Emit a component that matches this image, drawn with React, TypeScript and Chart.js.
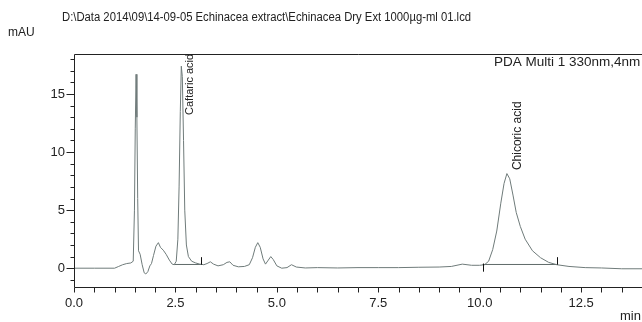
import React, { useEffect, useRef } from 'react';
import { Chart, registerables } from 'chart.js';

Chart.register(...registerables);

// ---- data ----
const TIME = [
  0.0, 0.5, 1.0, 1.1, 1.2, 1.3, 1.4, 1.46, 1.49, 1.51, 1.53, 1.55, 1.57, 1.59,
  1.63, 1.68, 1.73, 1.77, 1.82, 1.87, 1.91, 1.96, 2.02, 2.08, 2.13, 2.2, 2.27,
  2.35, 2.42, 2.47, 2.52, 2.56, 2.59, 2.62, 2.645, 2.67, 2.7, 2.73, 2.77, 2.82,
  2.9, 3.0, 3.1, 3.2, 3.28, 3.36, 3.44, 3.55, 3.68, 3.77, 3.84, 3.92, 4.05,
  4.2, 4.32, 4.4, 4.47, 4.53, 4.59, 4.66, 4.72, 4.79, 4.85, 4.91, 5.0, 5.12,
  5.25, 5.36, 5.48, 5.7, 6.0, 6.5, 7.0, 7.5, 8.0, 8.5, 9.0, 9.3, 9.57, 9.8,
  10.0, 10.12, 10.22, 10.32, 10.42, 10.52, 10.6, 10.67, 10.74, 10.82, 10.9,
  11.0, 11.12, 11.3, 11.5, 11.7, 11.9, 12.2, 12.6, 13.0, 13.5, 14.0,
];
const MAU = [
  0.0, 0.0, 0.0, 0.15, 0.3, 0.4, 0.45, 0.6, 5.0, 12.0, 16.7, 13.0, 6.0, 1.5,
  1.2, 0.3, -0.4, -0.5, -0.3, 0.2, 0.4, 1.1, 1.9, 2.2, 1.8, 1.55, 1.2,
  0.7, 0.35, 0.3, 0.6, 2.5, 7.0, 13.5, 17.4, 16.5, 11.0, 5.0, 2.0, 1.0,
  0.6, 0.45, 0.35, 0.3, 0.4, 0.55, 0.35, 0.2, 0.3, 0.5, 0.55, 0.25, 0.12,
  0.15, 0.3, 0.9, 1.8, 2.2, 1.8, 0.8, 0.35, 0.7, 1.0, 0.75, 0.2, 0.0,
  0.05, 0.3, 0.1, 0.02, 0.05, 0.02, 0.05, 0.05, 0.05, 0.08, 0.1, 0.15, 0.35, 0.25,
  0.25, 0.3, 0.6, 1.6, 3.2, 5.6, 7.3, 8.15, 7.7, 6.3, 4.8,
  3.6, 2.5, 1.5, 0.9, 0.5, 0.3, 0.15, 0.05, 0.02, -0.05, -0.05,
];

// integration baselines (start/end time and level)
const BASELINE_START = [2.47, 10.07];
const BASELINE_END = [3.13, 11.9];
const BASELINE_LEVEL = [0.32, 0.32];

// peak start/end markers
const MARKER_TIME = [3.13, 10.07, 11.9];
const MARKER_LOW = [0.3, -0.3, 0.3];
const MARKER_HIGH = [0.95, 0.4, 0.95];

// peak labels (anchor in data units, text runs upward)
const PEAK_NAMES = ['Caftaric acid', 'Chicoric acid'];
const PEAK_LABEL_TIME = [2.86, 10.94];
const PEAK_LABEL_MAU = [13.2, 8.45];
const PEAK_LABEL_SIZE = [11, 12];

const X_LABELS = [0, 2.5, 5, 7.5, 10, 12.5];
const Y_LABELS = [0, 5, 10, 15];

const TITLE = 'D:\\Data 2014\\09\\14-09-05 Echinacea extract\\Echinacea Dry Ext 1000\u00b5g-ml 01.lcd';
const CHANNEL = 'PDA Multi 1 330nm,4nm';
const Y_UNIT = 'mAU';
const X_UNIT = 'min';

const X_MIN = 0;
const X_MAX = 14;
const Y_MIN = -1.62;
const Y_MAX = 18.45;

const FONT = '"Liberation Sans", Arial, sans-serif';
const TRACE = '#6f7b7a';
const INK = '#222222';

const decor = {
  id: 'decor',
  afterDraw(chart: any) {
    const { ctx, chartArea, scales } = chart;
    const { left, top, right, bottom } = chartArea;
    const xs = scales.x;
    const ys = scales.y;
    const L = Math.round(left) + 0.5;
    const T = Math.round(top) + 0.5;
    const B = Math.round(bottom) + 0.5;
    ctx.save();
    ctx.strokeStyle = INK;
    ctx.lineWidth = 1;
    ctx.beginPath();
    ctx.moveTo(L, T); ctx.lineTo(right, T);
    ctx.moveTo(L, T); ctx.lineTo(L, B);
    ctx.moveTo(L, B); ctx.lineTo(right, B);
    // y ticks every 1 unit
    for (let v = Math.ceil(Y_MIN); v <= Y_MAX; v += 1) {
      const py = Math.round(ys.getPixelForValue(v)) + 0.5;
      const len = v % 5 === 0 ? 8 : 4;
      ctx.moveTo(L - len, py); ctx.lineTo(L, py);
    }
    // x ticks every 0.5 min
    for (let v = X_MIN; v <= X_MAX + 1e-9; v += 0.5) {
      const px = Math.round(xs.getPixelForValue(v)) + 0.5;
      ctx.moveTo(px, B); ctx.lineTo(px, B + 5);
    }
    ctx.stroke();

    // markers
    ctx.beginPath();
    ctx.strokeStyle = '#111';
    MARKER_TIME.forEach((t, i) => {
      const px = Math.round(xs.getPixelForValue(t)) + 0.5;
      ctx.moveTo(px, ys.getPixelForValue(MARKER_LOW[i]));
      ctx.lineTo(px, ys.getPixelForValue(MARKER_HIGH[i]));
    });
    ctx.stroke();

    ctx.fillStyle = INK;
    ctx.textBaseline = 'middle';
    ctx.textAlign = 'left';

    // title, slightly condensed
    ctx.save();
    ctx.font = `12px ${FONT}`;
    ctx.translate(62, 18);
    ctx.scale(0.94, 1);
    ctx.fillText(TITLE, 0, 0);
    ctx.restore();

    ctx.font = `12px ${FONT}`;
    ctx.fillText(Y_UNIT, 8, 33);
    ctx.font = `13.5px ${FONT}`;
    ctx.fillText(CHANNEL, 494, 62);
    ctx.font = `13px ${FONT}`;
    ctx.fillText(X_UNIT, 620, 316);

    PEAK_NAMES.forEach((name, i) => {
      ctx.save();
      ctx.font = `${PEAK_LABEL_SIZE[i]}px ${FONT}`;
      ctx.translate(xs.getPixelForValue(PEAK_LABEL_TIME[i]), ys.getPixelForValue(PEAK_LABEL_MAU[i]));
      ctx.rotate(-Math.PI / 2);
      ctx.textAlign = 'left';
      ctx.textBaseline = 'middle';
      ctx.fillText(name, 0, 0);
      ctx.restore();
    });
    ctx.restore();
  },
};

export default function App() {
  const ref = useRef<HTMLCanvasElement | null>(null);

  useEffect(() => {
    if (!ref.current) return;
    const datasets: any[] = [
      {
        data: TIME.map((t, i) => ({ x: t, y: MAU[i] })),
        borderColor: TRACE,
        borderWidth: 1,
        pointRadius: 0,
        tension: 0,
      },
    ];
    BASELINE_START.forEach((s, i) => {
      datasets.push({
        data: [
          { x: s, y: BASELINE_LEVEL[i] },
          { x: BASELINE_END[i], y: BASELINE_LEVEL[i] },
        ],
        borderColor: '#5f6a69',
        borderWidth: 1,
        pointRadius: 0,
      });
    });

    const chart = new Chart(ref.current, {
      type: 'line',
      data: { datasets },
      options: {
        animation: false,
        responsive: false,
        events: [],
        layout: { padding: { top: 54, left: 0, right: 0, bottom: 0 } },
        plugins: { legend: { display: false }, tooltip: { enabled: false }, title: { display: false } },
        scales: {
          x: {
            type: 'linear',
            min: X_MIN,
            max: X_MAX,
            grid: { display: false, drawTicks: false },
            border: { display: false },
            afterBuildTicks: (s: any) => { s.ticks = X_LABELS.map((v) => ({ value: v })); },
            afterFit: (s: any) => { s.height = 35; },
            ticks: {
              autoSkip: false,
              maxRotation: 0,
              padding: 9,
              color: INK,
              font: { family: FONT, size: 13 },
              callback: (v: any) => Number(v).toFixed(1),
            },
          },
          y: {
            type: 'linear',
            min: Y_MIN,
            max: Y_MAX,
            grid: { display: false, drawTicks: false },
            border: { display: false },
            afterBuildTicks: (s: any) => { s.ticks = Y_LABELS.map((v) => ({ value: v })); },
            afterFit: (s: any) => { s.width = 74; },
            ticks: {
              padding: 9,
              color: INK,
              font: { family: FONT, size: 13 },
              callback: (v: any) => String(v),
            },
          },
        },
      },
      plugins: [decor],
    });
    return () => chart.destroy();
  }, []);

  return (
    <canvas
      ref={ref}
      width={642}
      height={322}
      style={{ position: 'fixed', left: 0, top: 0, width: 642, height: 322, background: '#fff' }}
    />
  );
}
